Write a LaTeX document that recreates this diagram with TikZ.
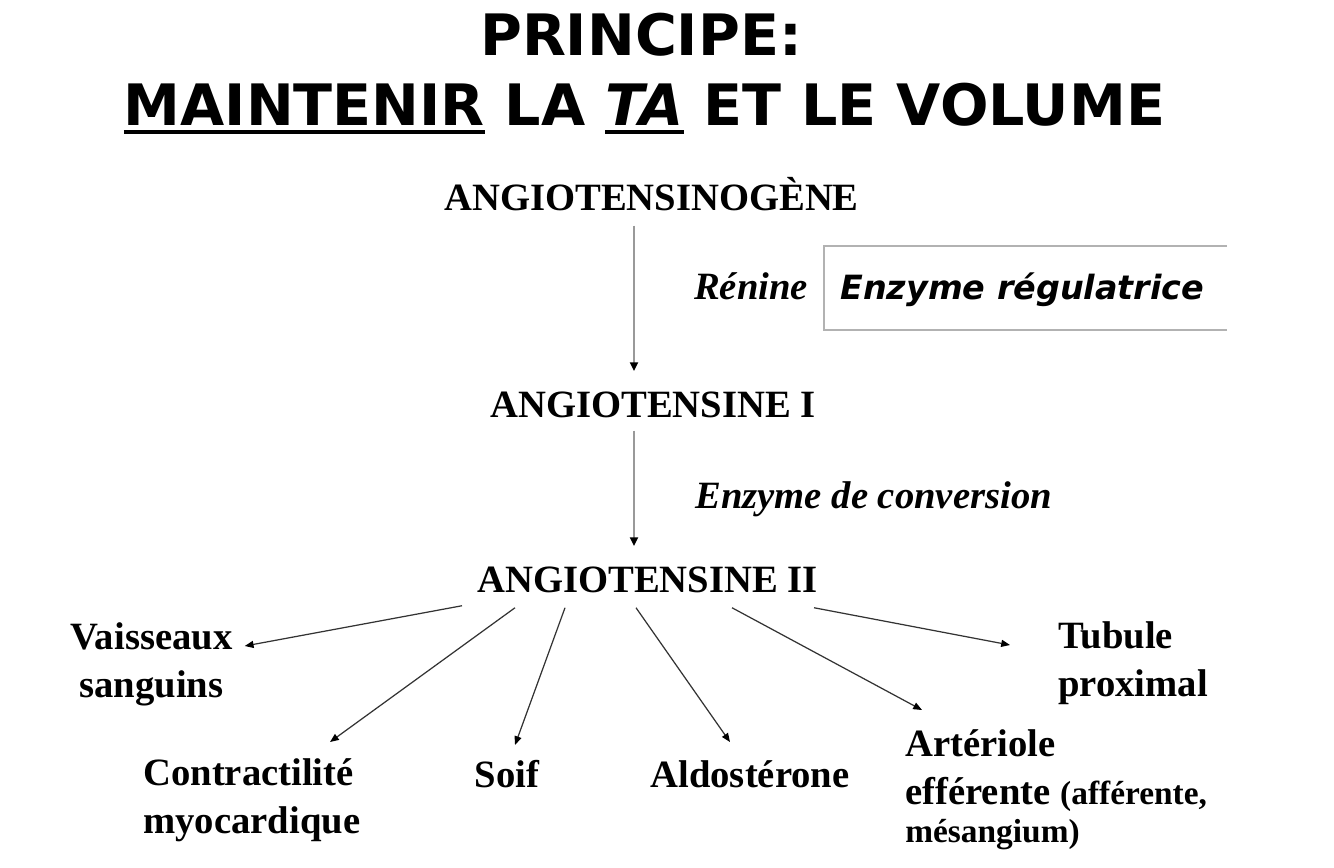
\documentclass[tikz,border=0pt]{standalone}
\usepackage{fontspec}
\setmainfont{Liberation Serif}
\newfontfamily\comicfont{DejaVu Sans}
\usetikzlibrary{arrows.meta}
\newsavebox\ulbox
\newcommand\thickul[1]{\sbox\ulbox{#1}\rlap{\rule[-5pt]{\wd\ulbox}{2.4pt}}\usebox\ulbox}
\tikzset{
  heading/.style={inner sep=0pt,font=\comicfont\bfseries\fontsize{32.5}{39}\selectfont},
  molecule/.style={inner sep=0pt,font=\bfseries\fontsize{22}{27}\selectfont},
  enzyme/.style={inner sep=0pt,font=\bfseries\itshape\fontsize{22}{27}\selectfont},
  effect/.style={inner sep=0pt,font=\bfseries\fontsize{22}{27.6}\selectfont},
  mainflow/.style={draw=black!40,line width=1.2pt,-{Triangle[length=5pt,width=4.5pt,color=black]}},
  branch/.style={draw=black!80,line width=0.7pt,-{Triangle[length=5pt,width=4pt,color=black]}},
  notebox/.style={draw=black!30,line width=0.9pt}
}

\begin{document}
\begin{tikzpicture}[x=0.02cm,y=-0.02cm]
  \useasboundingbox (0,0) rectangle (1334,867);

  \node[heading,anchor=base] (title) at (641,55) {PRINCIPE:};
  \node[heading,anchor=base] (subtitle) at (644.5,125)
    {\thickul{MAINTENIR} LA \thickul{\itshape TA} ET LE VOLUME};

  \node[molecule,anchor=base] (ag) at (651.5,210) {ANGIOTENSINOGÈNE};
  \node[molecule,anchor=base] (a1) at (653,417) {ANGIOTENSINE I};
  \node[molecule,anchor=base] (a2) at (647.5,592) {ANGIOTENSINE II};

  \node[enzyme,anchor=base] (ren) at (751,299) {Rénine};
  \node[inner sep=0pt,anchor=base west,
        font=\comicfont\bfseries\itshape\fontsize{19}{23}\selectfont]
    (reg) at (840,299) {Enzyme régulatrice};
  \draw[notebox] (1227,246) -| (824,330) -- (1227,330);
  \node[enzyme,anchor=base west] (eca) at (695,508) {Enzyme de conversion};

  \draw[mainflow] ([shift={(-17.5,15)}]ag.south) -- ([shift={(-19,-20)}]a1.north);
  \draw[mainflow] ([shift={(-19,13)}]a1.south) -- ([shift={(-13.5,-20)}]a2.north);

  \node[effect,align=center,anchor=north] (vs) at (151.5,622) {Vaisseaux\\sanguins};
  \node[effect,align=left,anchor=north west] (cm) at (143,758) {Contractilité\\myocardique};
  \node[effect,anchor=base] (soif) at (507,787) {Soif};
  \node[effect,anchor=base] (al) at (750,787) {Aldostérone};
  \node[effect,align=left,anchor=north west] (ar) at (905,729)
    {Artériole\\efférente {\fontsize{19}{23}\selectfont (afférente,}\\[-6pt]%
     {\fontsize{19}{23}\selectfont mésangium)}};
  \node[effect,align=left,anchor=north west] (tb) at (1058,621) {Tubule\\proximal};

  \draw[branch] ([shift={(-185.5,13)}]a2.south) -- ([shift={(12,24)}]vs.north east);
  \draw[branch] ([shift={(-132.5,15)}]a2.south) -- ([shift={(187,-16)}]cm.north west);
  \draw[branch] ([shift={(-82.5,15)}]a2.south) -- ([shift={(8,-42)}]soif.base);
  \draw[branch] ([shift={(-11.5,15)}]a2.south) -- ([shift={(-20,-45)}]al.base);
  \draw[branch] ([shift={(84.5,15)}]a2.south) -- ([shift={(17,-19)}]ar.north west);
  \draw[branch] ([shift={(166.5,15)}]a2.south) -- ([shift={(-48,24)}]tb.north west);
\end{tikzpicture}
\end{document}
